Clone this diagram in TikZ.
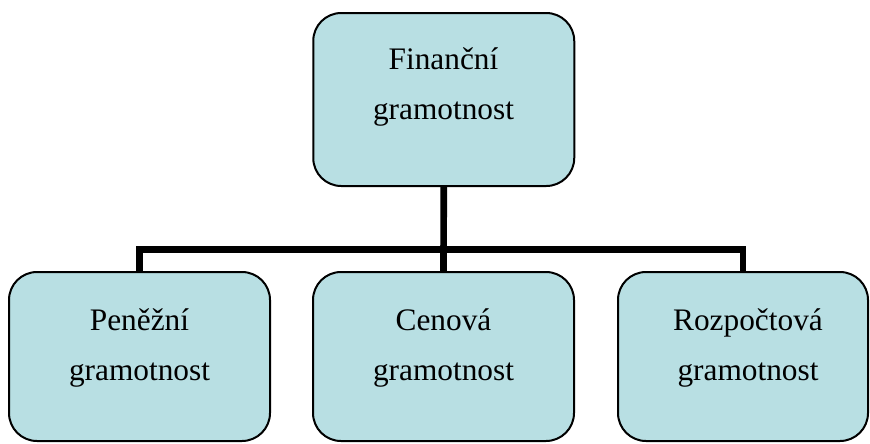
\documentclass[tikz,border=0pt]{standalone}
\usepackage{fontspec}
\setmainfont{Liberation Serif}
\definecolor{boxfill}{RGB}{184,223,227}
\tikzset{
  boxnode/.style={draw=black, line width=1.5pt, fill=boxfill, rounded corners=21pt,
    minimum width=195.75pt, minimum height=126.75pt, inner sep=0pt},
  boxtext/.style={align=center, inner sep=0pt, font=\fontsize{23.5}{38}\selectfont},
  conn/.style={line width=5pt, line join=miter}
}
\begin{document}
\begin{tikzpicture}[x=0.75pt, y=-0.75pt]
  \useasboundingbox (0,0) rectangle (870,443);
  % boxes
  \node[boxnode, minimum height=129.75pt] (fin) at (443.75,99.5) {};
  \node[boxnode] (pen) at (139.5,356.5) {};
  \node[boxnode] (cen) at (443.5,356.5) {};
  \node[boxnode, minimum width=187.5pt] (rozp) at (743,356.5) {};
  \coordinate (bus) at (443.5,249.5);
  % connectors
  \draw[conn] (pen.north) |- (bus) -| (rozp.north);
  \draw[conn] (fin.south) -- (cen.north);
  % texts
  \node[boxtext] (fintext) at (443.5,87) {Finanční\\gramotnost};
  \node[boxtext] (pentext) at (139.5,348) {Peněžní\\gramotnost};
  \node[boxtext] (centext) at (443.5,348) {Cenová\\gramotnost};
  \node[boxtext] (rozptext) at (748,348) {Rozpočtová\\gramotnost};
\end{tikzpicture}
\end{document}
